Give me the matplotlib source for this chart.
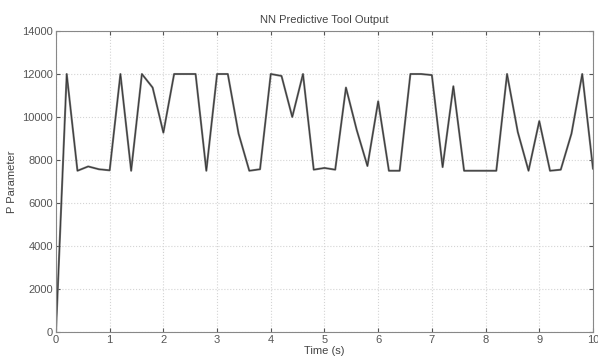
import matplotlib
matplotlib.use("Agg")
import matplotlib.pyplot as plt
import numpy as np

plt.rcParams['font.family'] = ['Liberation Sans', 'DejaVu Sans']

time_s = [0.0, 0.2, 0.4, 0.6, 0.8, 1.0, 1.2, 1.4, 1.6, 1.8, 2.0,
          2.2, 2.4, 2.6, 2.8, 3.0, 3.2, 3.4, 3.6, 3.8, 4.0,
          4.2, 4.4, 4.6, 4.8, 5.0, 5.2, 5.4, 5.6, 5.8, 6.0,
          6.2, 6.4, 6.6, 6.8, 7.0, 7.2, 7.4, 7.6, 7.8, 8.0,
          8.2, 8.4, 8.6, 8.8, 9.0, 9.2, 9.4, 9.6, 9.8, 10.0]
p_output = [0, 12000, 7500, 7700, 7570, 7520, 12000, 7500, 12000, 11370, 9270,
            12000, 12000, 12000, 7500, 12000, 12000, 9230, 7500, 7570, 12000,
            11910, 10000, 12000, 7550, 7630, 7550, 11370, 9400, 7720, 10730,
            7500, 7500, 12000, 12000, 11950, 7670, 11430, 7500, 7500, 7500,
            7500, 12000, 9300, 7500, 9810, 7500, 7550, 9230, 12000, 7600]
p_target = [0, 12000, 7500, 7700, 7570, 7520, 12000, 7500, 12000, 11370, 9270,
            12000, 12000, 12000, 7500, 12000, 12000, 9230, 7500, 7570, 12000,
            11910, 10000, 12000, 7550, 7630, 7550, 11370, 9400, 7720, 10730,
            7500, 7500, 12000, 12000, 11950, 7670, 11430, 7500, 7500, 7500,
            7500, 12000, 9300, 7500, 9810, 7500, 7550, 9230, 12000, 7600]

fig = plt.figure(figsize=(5.98, 3.56), dpi=100)
ax = fig.add_axes([0.0936, 0.0674, 0.898, 0.8455])

ax.plot(time_s, p_output, color='#777777', lw=1.5)
ax.plot(time_s, p_target, color='#333333', lw=0.6)

ax.set_xlim(0, 10)
ax.set_ylim(0, 14000)
ax.set_xticks(np.arange(0, 11, 1))
ax.set_yticks(np.arange(0, 14001, 2000))
ax.grid(True, color='#d4d4d4', linestyle=':', linewidth=0.8)
ax.tick_params(direction='in', top=True, right=True, labelsize=8,
               colors='#555555', length=3, pad=2)
for s in ax.spines.values():
    s.set_color('#888888')
    s.set_linewidth(0.8)

ax.set_title('NN Predictive Tool Output', fontsize=8, color='#444444', pad=6)
ax.set_xlabel('Time (s)', fontsize=8, color='#444444', labelpad=1)
ax.set_ylabel('P Parameter', fontsize=8, color='#444444', labelpad=4)

fig.savefig('out.png', dpi=100)
